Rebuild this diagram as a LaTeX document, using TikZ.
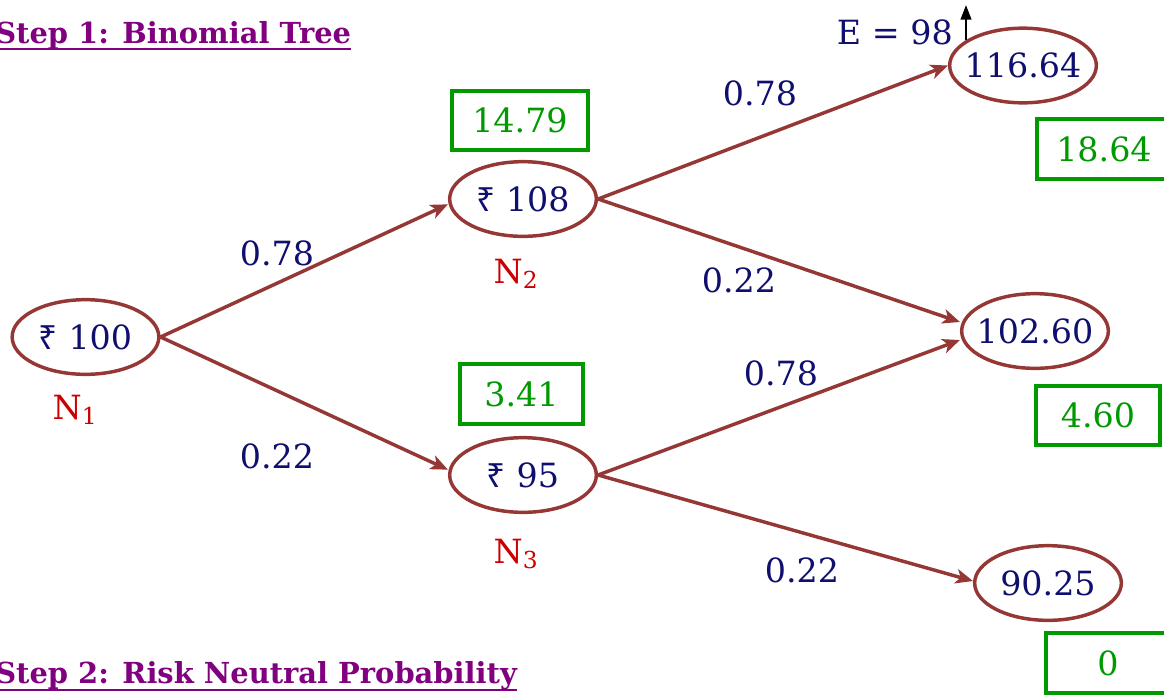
\documentclass[tikz,border=0pt]{standalone}
\usepackage{fontspec}
\setmainfont{DejaVu Serif}
\newfontfamily\rupeefont{Noto Sans}
\usetikzlibrary{shapes.geometric,arrows.meta}
\definecolor{brn}{HTML}{953735}
\definecolor{navy}{HTML}{0F0F6E}
\definecolor{grn}{HTML}{009900}
\definecolor{redn}{HTML}{CC0000}
\definecolor{purp}{HTML}{800080}
\newcommand\Rs{{\rupeefont ₹}}
\newcommand\bigfont{\fontsize{25}{30}\selectfont}
\begin{document}
\begin{tikzpicture}[x=0.75pt,y=-0.75pt,
  price/.style={ellipse,draw=brn,line width=2.6pt,minimum width=110pt,minimum height=56pt,inner xsep=-6pt,inner ysep=0pt,text=navy,font=\bigfont},
  val/.style={rectangle,draw=grn,line width=3pt,inner sep=0pt,text=grn,font=\bigfont,minimum height=44.5pt},
  prob/.style={text=navy,font=\bigfont,inner sep=0pt},
  nlab/.style={text=redn,font=\bigfont,inner sep=0pt,anchor=base},
  arr/.style={draw=brn,line width=2.6pt,-{Stealth[length=13pt,width=11pt,inset=3.5pt]}},
  heading/.style={text=purp,font=\bfseries\fontsize{21.7}{26}\selectfont,anchor=base west,inner sep=0pt},
  uline/.style={draw=purp,line width=1.6pt}]
\useasboundingbox (0,0) rectangle (1164,694);
\clip (0,0) rectangle (1164,694);

% headings
\node[heading] (h1) at (-5,43) {Step 1: Binomial Tree};
\draw[uline] ([yshift=-4.5pt]h1.base west) -- ([yshift=-4.5pt]h1.base east);
\node[heading] (h2) at (-5,683) {Step 2: Risk Neutral Probability};
\draw[uline] ([yshift=-5.5pt]h2.base west) -- ([yshift=-5.5pt]h2.base east);

% price nodes
\node[price] (n1) at (85.5,337) {\Rs{} 100};
\node[price] (n2) at (523,199) {\Rs{} 108};
\node[price] (n3) at (523,475) {\Rs{} 95};
\node[price] (n4) at (1023,65.5) {116.64};
\node[price] (n5) at (1035,331) {102.60};
\node[price] (n6) at (1048,583) {90.25};

% node labels
\node[nlab] (l1) at (75,419) {N\textsubscript{1}};
\node[nlab] (l2) at (516,283) {N\textsubscript{2}};
\node[nlab] (l3) at (516,563) {N\textsubscript{3}};

% option values
\node[val,minimum width=102pt] (v2) at (520,120.5) {14.79};
\node[val,minimum width=92pt] (v3) at (521.5,394) {3.41};
\node[val,minimum width=100pt] (v4) at (1104,149) {18.64};
\node[val,minimum width=93pt] (v5) at (1098,415.5) {4.60};
\node[val,minimum width=93pt] (v6) at (1108,663) {0};

% connectors
\draw[arr] (n1.east) -- ([yshift=-4pt]n2.west);
\draw[arr] (n1.east) -- ([yshift=4pt]n3.west);
\draw[arr] (n2.east) -- (n4.west);
\draw[arr] (n2.east) -- ([yshift=6.75pt]n5.west);
\draw[arr] (n3.east) -- ([yshift=-6.75pt]n5.west);
\draw[arr] (n3.east) -- ([yshift=1.5pt]n6.west);

% probabilities
\node[prob] (p1) at (277,253) {0.78};
\node[prob] (p2) at (277,456) {0.22};
\node[prob] (p3) at (760,93) {0.78};
\node[prob] (p4) at (739,280) {0.22};
\node[prob] (p5) at (781,373) {0.78};
\node[prob] (p6) at (802,570) {0.22};

% E = 98
\node[prob,anchor=base east] (e) at (953,44) {E = 98};
\coordinate (ebase) at (966,40);
\coordinate (etip) at (966,5);
\draw[line width=1.6pt,-{Triangle[length=11pt,width=8pt]}] (ebase) -- (etip);
\end{tikzpicture}
\end{document}
